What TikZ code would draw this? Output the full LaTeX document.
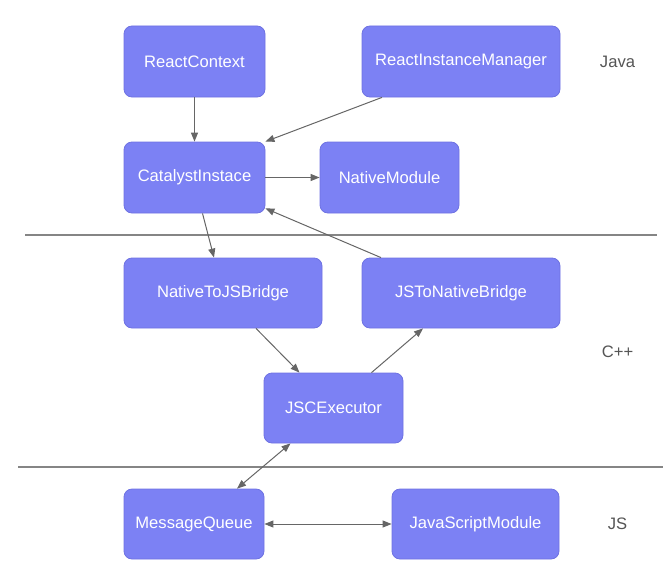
\documentclass[tikz,border=0pt]{standalone}
\usepackage{fontspec}
\setmainfont{Liberation Sans}
\usetikzlibrary{arrows.meta}
\definecolor{boxfill}{HTML}{7C81F4}
\definecolor{boxedge}{HTML}{6E72E2}
\definecolor{arrowgray}{HTML}{666666}
\definecolor{sepgray}{HTML}{858585}
\definecolor{labgray}{HTML}{555555}
\tikzset{
  box/.style={draw=boxedge, line width=0.8pt, fill=boxfill, rounded corners=8pt,
    text=white, font=\fontsize{16.6}{19}\selectfont, inner sep=0pt, anchor=center},
  conn/.style={draw=arrowgray, line width=1pt, -{Triangle[length=9pt,width=7pt]}},
  conn2/.style={draw=arrowgray, line width=1pt, {Triangle[length=9pt,width=7pt]}-{Triangle[length=9pt,width=7pt]}},
  sep/.style={draw=sepgray, line width=2.8pt},
  layer/.style={text=labgray, font=\fontsize{16.6}{19}\selectfont, anchor=center}
}
\begin{document}
\begin{tikzpicture}[x=1pt,y=-1pt]
\useasboundingbox (0,0) rectangle (671,586);
\node[box, minimum width=141pt, minimum height=71pt] (rc) at (194.5,61.5) {ReactContext};
\node[box, minimum width=198pt, minimum height=71pt] (rim) at (461,61.5) {ReactInstanceManager};
\node[box, minimum width=141pt, minimum height=71pt] (ci) at (194.5,177.5) {CatalystInstace};
\node[box, minimum width=139pt, minimum height=71pt] (nm) at (389.5,177.5) {NativeModule};
\node[box, minimum width=198pt, minimum height=70pt] (n2j) at (223,293) {NativeToJSBridge};
\node[box, minimum width=198pt, minimum height=70pt] (j2n) at (461,293) {JSToNativeBridge};
\node[box, minimum width=139pt, minimum height=70pt] (jsc) at (333.5,408) {JSCExecutor};
\node[box, minimum width=140pt, minimum height=70pt] (mq) at (194,524) {MessageQueue};
\node[box, minimum width=167pt, minimum height=70pt] (jsm) at (475.5,524) {JavaScriptModule};

\node[layer] (java) at (617.5,62) {Java};
\node[layer] (cpp) at (617.5,352) {C++};
\node[layer] (js) at (617.5,524) {JS};

\coordinate (s1a) at (25,235);
\coordinate (s1b) at (657,235);
\coordinate (s2a) at (18,467);
\coordinate (s2b) at (663,467);
\draw[sep] (s1a) -- (s1b);
\draw[sep] (s2a) -- (s2b);

\draw[conn] (rc.south) -- (ci.north);
\draw[conn] ([xshift=-79pt]rim.south) -- (ci.north east);
\draw[conn] (ci.east) -- (nm.west);
\draw[conn] ([xshift=8pt]ci.south) -- ([xshift=-9pt]n2j.north);
\draw[conn] ([xshift=-80pt]j2n.north) -- ([yshift=5pt]ci.south east);
\draw[conn] ([xshift=33pt]n2j.south) -- ([xshift=-34pt]jsc.north);
\draw[conn] ([xshift=38pt]jsc.north) -- ([xshift=-38pt]j2n.south);
\draw[conn2] ([xshift=-43pt]jsc.south) -- ([xshift=43pt]mq.north);
\draw[conn2] (mq.east) -- (jsm.west);
\end{tikzpicture}
\end{document}
